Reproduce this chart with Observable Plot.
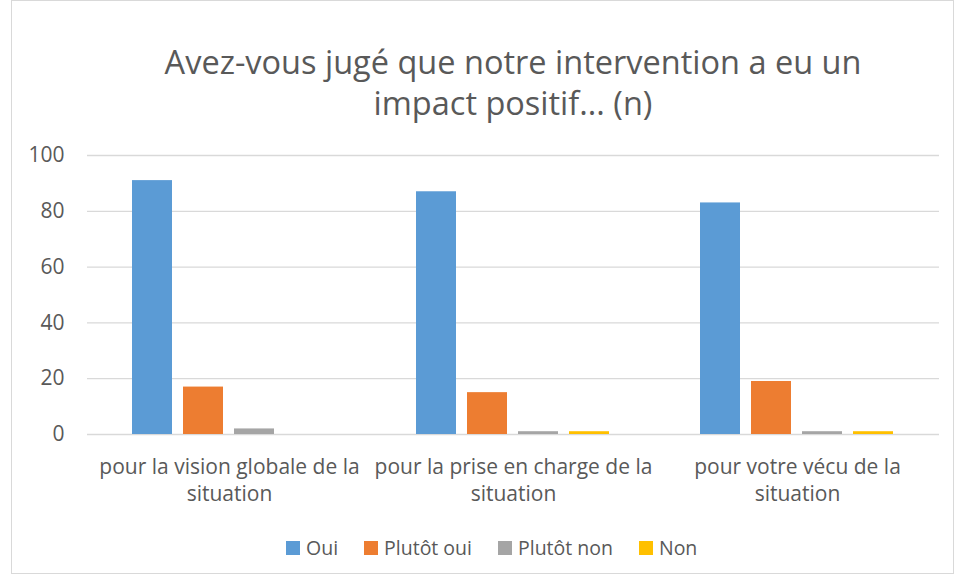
<!DOCTYPE html>
<html>
<head>
<meta charset="utf-8">
<script src="https://cdn.jsdelivr.net/npm/d3@7"></script>
<script src="https://cdn.jsdelivr.net/npm/@observablehq/plot@0.6"></script>
<style>
  body { margin: 0; background: #fff; }
  #wrap { position: relative; width: 957px; height: 577px; overflow: hidden; font-family: "Open Sans", sans-serif; color: #595959; }
  #frame { position: absolute; left: 11px; top: 0px; width: 943px; height: 574px; border: 1px solid #d9d9d9; box-sizing: border-box; }
  #title { position: absolute; left: 86px; width: 854px; top: 41px; text-align: center; font-size: 32.5px; line-height: 41px; }
  #chart { position: absolute; left: 0; top: 140px; }
  #legend { position: absolute; left: 286px; top: 534px; display: flex; align-items: center; font-size: 19.5px; line-height: 28px; white-space: nowrap; }
  #legend .item { display: flex; align-items: center; margin-right: 26px; }
  #legend .sw { width: 14px; height: 14px; margin-right: 6px; }
</style>
</head>
<body>
<div id="wrap">
  <div id="frame"></div>
  <div id="title">Avez-vous jugé que notre intervention a eu un<br>impact positif... (n)</div>
  <div id="chart"></div>
  <div id="legend"></div>
</div>
<script>
const categories = [
  "pour la vision globale de la\nsituation",
  "pour la prise en charge de la\nsituation",
  "pour votre vécu de la\nsituation"
];
const series = ["Oui", "Plutôt oui", "Plutôt non", "Non"];
const colors = ["#5B9BD5", "#ED7D31", "#A5A5A5", "#FFC000"];
const oui = [91, 87, 83];
const plutotOui = [17, 15, 19];
const plutotNon = [2, 1, 1];
const non = [0, 1, 1];
const yTicks = [0, 20, 40, 60, 80, 100];

const values = [oui, plutotOui, plutotNon, non];
const data = [];
categories.forEach((c, i) => {
  series.forEach((s, j) => data.push({ category: c, series: s, value: values[j][i] }));
});

const plot = Plot.plot({
  width: 957,
  height: 370,
  marginLeft: 86,
  marginRight: 17,
  marginTop: 15,
  marginBottom: 76,
  style: { fontFamily: "'Open Sans', sans-serif", fontSize: "21px", color: "#595959", background: "transparent", overflow: "visible" },
  fx: { domain: categories, padding: 0, label: null, axis: null },
  x: { domain: series, paddingInner: 0.21, paddingOuter: 0.84, axis: null },
  y: { domain: [0, 100], ticks: yTicks, label: null, axis: null },
  color: { domain: series, range: colors },
  marks: [
    Plot.gridY(yTicks, { stroke: "#d9d9d9", strokeOpacity: 1, strokeWidth: 1.3 }),
    Plot.barY(data, { fx: "category", x: "series", y: "value", fill: "series" }),
    Plot.axisY(yTicks, { tickSize: 0, tickPadding: 23, fontSize: 21, fill: "#595959", label: null }),
    Plot.axisFx({ anchor: "bottom", tickSize: 0, tickPadding: 20, fontSize: 21, fill: "#595959", lineHeight: 1.3, label: null })
  ]
});
document.getElementById("chart").appendChild(plot);

const legend = document.getElementById("legend");
series.forEach((s, j) => {
  const item = document.createElement("div");
  item.className = "item";
  const sw = document.createElement("div");
  sw.className = "sw";
  sw.style.background = colors[j];
  const t = document.createElement("span");
  t.textContent = s;
  item.appendChild(sw);
  item.appendChild(t);
  legend.appendChild(item);
});
</script>
</body>
</html>
